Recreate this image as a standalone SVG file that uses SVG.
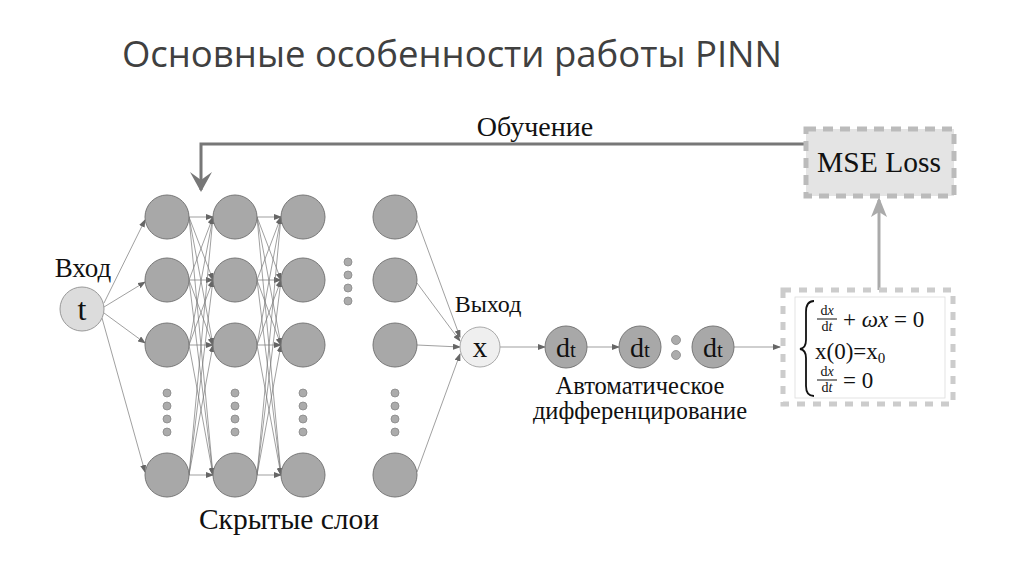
<svg xmlns="http://www.w3.org/2000/svg" width="1024" height="574" viewBox="0 0 1024 574">
<defs>
<marker id="a" markerWidth="8" markerHeight="6" refX="7" refY="3" orient="auto" markerUnits="userSpaceOnUse"><path d="M0,0 L8,3 L0,6 Z" fill="#666"/></marker>
</defs>
<style>
.n{fill:#a8a8a8;stroke:#777;stroke-width:1}
.dot{fill:#ababab;stroke:#888;stroke-width:0.8}
.c{stroke:#777;stroke-width:0.7;fill:none;marker-end:url(#a)}
.t{font-family:"Liberation Serif",serif;fill:#111}
</style>
<rect width="1024" height="574" fill="#fff"/>
<text x="452" y="67" font-family="'Open Sans',sans-serif" font-size="36.5" fill="#404040" text-anchor="middle">Основные особенности работы PINN</text>
<g id="connectors">
<path d="M804,144 H201 V190" stroke="#777" stroke-width="3" fill="none"/>
<path d="M190,172 L201,192 L212,172 L201,180 Z" fill="#777"/>
<path d="M879,290 V200" stroke="#aaa" stroke-width="3" fill="none"/>
<path d="M871,217 L879,197 L887,217 L879,212 Z" fill="#aaa"/>
<line class="c" x1="104" y1="303" x2="145" y2="220"/>
<line class="c" x1="104" y1="307" x2="145" y2="282"/>
<line class="c" x1="104" y1="313" x2="145" y2="343"/>
<line class="c" x1="102" y1="318" x2="145" y2="472"/>
<g id="l12">
<line class="c" x1="189" y1="217" x2="213" y2="217"/><line class="c" x1="189" y1="217" x2="213" y2="280"/><line class="c" x1="189" y1="217" x2="213" y2="345"/><line class="c" x1="189" y1="217" x2="213" y2="475"/>
<line class="c" x1="189" y1="280" x2="213" y2="217"/><line class="c" x1="189" y1="280" x2="213" y2="280"/><line class="c" x1="189" y1="280" x2="213" y2="345"/><line class="c" x1="189" y1="280" x2="213" y2="475"/>
<line class="c" x1="189" y1="345" x2="213" y2="217"/><line class="c" x1="189" y1="345" x2="213" y2="280"/><line class="c" x1="189" y1="345" x2="213" y2="345"/><line class="c" x1="189" y1="345" x2="213" y2="475"/>
<line class="c" x1="189" y1="475" x2="213" y2="217"/><line class="c" x1="189" y1="475" x2="213" y2="280"/><line class="c" x1="189" y1="475" x2="213" y2="345"/><line class="c" x1="189" y1="475" x2="213" y2="475"/>
</g>
<use href="#l12" x="68"/>
<line class="c" x1="417" y1="220" x2="460" y2="337"/>
<line class="c" x1="417" y1="283" x2="460" y2="341"/>
<line class="c" x1="417" y1="345" x2="460" y2="347"/>
<line class="c" x1="417" y1="472" x2="460" y2="354"/>
<line class="c" x1="500" y1="347" x2="545" y2="347"/>
<line class="c" x1="587" y1="347" x2="619" y2="347"/>
<line class="c" x1="734" y1="347" x2="780" y2="347"/>
</g>
<g id="input"><circle cx="82" cy="309" r="22" fill="#dcdcdc" stroke="#999"/><text class="t" x="82" y="320" font-size="32" text-anchor="middle">t</text>
<text class="t" x="83" y="277" font-size="27" text-anchor="middle">Вход</text></g>
<g id="hidden">
<circle class="n" cx="167" cy="217" r="22"/><circle class="n" cx="167" cy="280" r="22"/><circle class="n" cx="167" cy="345" r="22"/><circle class="n" cx="167" cy="475" r="22"/>
<circle class="n" cx="235" cy="217" r="22"/><circle class="n" cx="235" cy="280" r="22"/><circle class="n" cx="235" cy="345" r="22"/><circle class="n" cx="235" cy="475" r="22"/>
<circle class="n" cx="303" cy="217" r="22"/><circle class="n" cx="303" cy="280" r="22"/><circle class="n" cx="303" cy="345" r="22"/><circle class="n" cx="303" cy="475" r="22"/>
<circle class="n" cx="395" cy="217" r="22"/><circle class="n" cx="395" cy="280" r="22"/><circle class="n" cx="395" cy="345" r="22"/><circle class="n" cx="395" cy="475" r="22"/>
<g id="dots1"><circle class="dot" cx="167" cy="393" r="4"/><circle class="dot" cx="167" cy="406" r="4"/><circle class="dot" cx="167" cy="419" r="4"/><circle class="dot" cx="167" cy="432" r="4"/></g>
<use href="#dots1" x="68"/><use href="#dots1" x="136"/><use href="#dots1" x="228"/><use href="#dots1" x="181" y="-131"/>
<text class="t" x="289" y="529" font-size="29.5" text-anchor="middle">Скрытые слои</text>
</g>
<g id="output"><circle cx="480" cy="347" r="20" fill="#efefef" stroke="#aaa"/><text class="t" x="480" y="357" font-size="29" text-anchor="middle">x</text>
<text class="t" x="488" y="312" font-size="24" text-anchor="middle">Выход</text></g>
<g id="autodiff">
<circle class="n" cx="566" cy="347" r="21"/><text class="t" x="566" y="357" font-size="28" text-anchor="middle">d<tspan font-size="21">t</tspan></text>
<circle class="n" cx="640" cy="347" r="21"/><text class="t" x="640" y="357" font-size="28" text-anchor="middle">d<tspan font-size="21">t</tspan></text>
<circle class="dot" cx="676" cy="340" r="4.5" fill="#888"/><circle class="dot" cx="676" cy="355" r="4.5" fill="#888"/>
<circle class="n" cx="713" cy="347" r="21"/><text class="t" x="713" y="357" font-size="28" text-anchor="middle">d<tspan font-size="21">t</tspan></text>
<text class="t" x="640" y="394" font-size="24.5" text-anchor="middle">Автоматическое</text>
<text class="t" x="640" y="419" font-size="24.5" text-anchor="middle">дифференцирование</text>
</g>
<g id="training"><text class="t" x="535" y="136" font-size="28" text-anchor="middle">Обучение</text></g>
<g id="mse"><rect x="806" y="129" width="148" height="67" fill="#e4e4e4" stroke="#bbb" stroke-width="5" stroke-dasharray="10,7"/>
<text class="t" x="879" y="172" font-size="29.5" text-anchor="middle">MSE Loss</text></g>
<g id="equations"><rect x="783" y="290" width="170" height="114" fill="#fff" stroke="#ccc" stroke-width="5" stroke-dasharray="8,8"/>
<rect x="795" y="297" width="150" height="101" fill="#fff" stroke="#ddd" stroke-width="0.8"/>
<path d="M814,301 Q806,301 806,312 V340 Q806,348 800,349 Q806,350 806,358 V386 Q806,396 814,396" fill="none" stroke="#111" stroke-width="1.8"/>
<g class="t" font-size="14" text-anchor="middle"><text x="827" y="315">d<tspan font-style="italic">x</tspan></text><text x="827" y="331">d<tspan font-style="italic">t</tspan></text>
<text x="827" y="376">d<tspan font-style="italic">x</tspan></text><text x="827" y="392">d<tspan font-style="italic">t</tspan></text></g>
<line x1="817" y1="319" x2="837" y2="319" stroke="#111"/><line x1="817" y1="380" x2="837" y2="380" stroke="#111"/>
<text class="t" x="843" y="327" font-size="23">+ <tspan font-style="italic">ωx</tspan> = 0</text>
<text class="t" x="815" y="359" font-size="23">x(0)=x<tspan font-size="15" dy="4">0</tspan></text>
<text class="t" x="843" y="388" font-size="23">= 0</text>
</g>
</svg>
